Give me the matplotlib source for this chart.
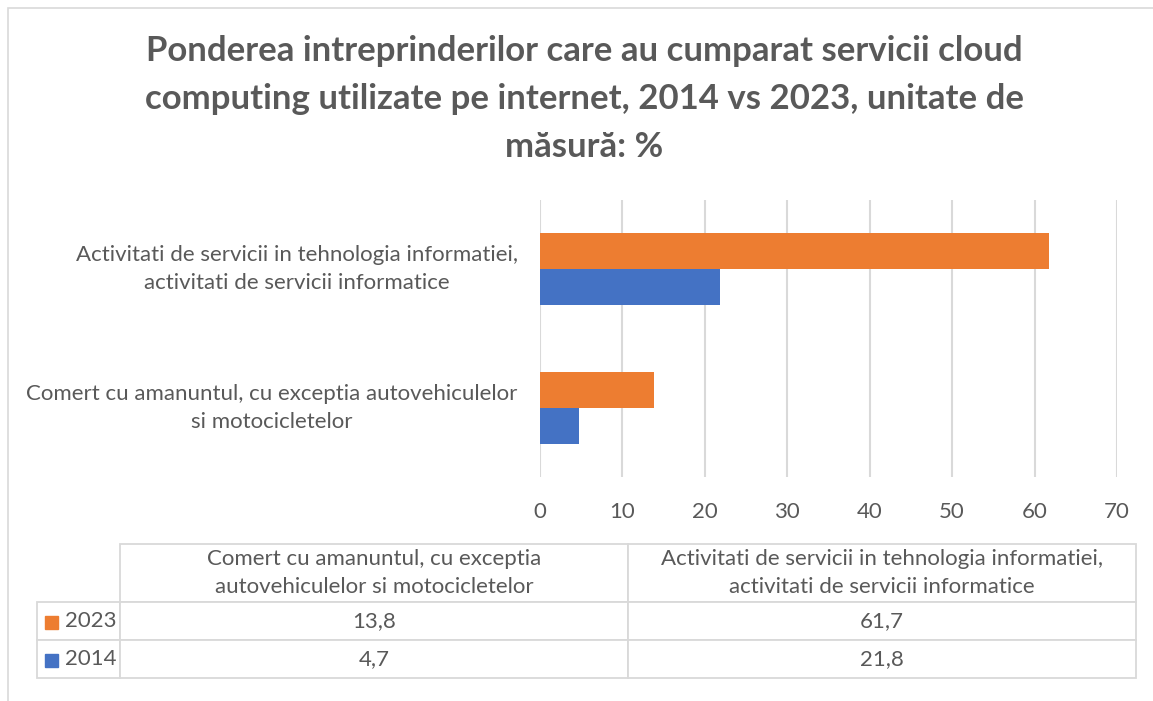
import matplotlib
matplotlib.use("Agg")
import matplotlib.pyplot as plt
from matplotlib.patches import Rectangle

plt.rcParams['font.family'] = ['Lato', 'DejaVu Sans']

# data
categories = ["Comert cu amanuntul, cu exceptia autovehiculelor\nsi motocicletelor",
              "Activitati de servicii in tehnologia informatiei,\nactivitati de servicii informatice"]
table_headers = ["Comert cu amanuntul, cu exceptia\nautovehiculelor si motocicletelor",
                 "Activitati de servicii in tehnologia informatiei,\nactivitati de servicii informatice"]
series = ["2023", "2014"]
values_2023 = [13.8, 61.7]
values_2014 = [4.7, 21.8]
colors = {"2023": "#ED7D31", "2014": "#4472C4"}
title = ("Ponderea intreprinderilor care au cumparat servicii cloud\n"
         "computing utilizate pe internet, 2014 vs 2023, unitate de\n"
         "măsură: %")

W, H = 1153, 701
txt = "#595959"
grid = "#D9D9D9"
fs = 16

fig = plt.figure(figsize=(W / 100, H / 100), dpi=100)

# chart border
fig.patches.append(Rectangle((8 / W, -0.05), 1.2, 1 - 8 / H + 0.05, transform=fig.transFigure,
                             fill=False, edgecolor=grid, lw=1.2))

fig.text(584 / W, 1 - 99 / H, title, ha='center', va='center', fontsize=25,
         fontweight='bold', color=txt, linespacing=1.63)

# bar chart
ax = fig.add_axes([540 / W, 1 - 477 / H, 577 / W, 277 / H])
y = range(len(categories))
h = 0.26
ax.barh([i + h / 2 for i in y], values_2023, height=h, color=colors["2023"], label="2023")
ax.barh([i - h / 2 for i in y], values_2014, height=h, color=colors["2014"], label="2014")
ax.set_xlim(0, 70)
ax.set_ylim(-0.5, 1.5)
ax.set_xticks(range(0, 71, 10))
ax.set_yticks(list(y))
ax.set_yticklabels(categories, ha='right', ma='center', va='center', linespacing=1.53)
ax.xaxis.grid(True, color=grid, lw=1.5)
ax.set_axisbelow(True)
for s in ax.spines.values():
    s.set_visible(False)
ax.tick_params(axis='y', length=0, pad=16, labelsize=fs, labelcolor=txt)
ax.tick_params(axis='x', length=0, pad=18, labelsize=fs, labelcolor=txt)

# data table, first column holds the series names
tw = 1099
axt = fig.add_axes([37 / W, 1 - 678 / H, tw / W, 134 / H])
axt.axis('off')
rows = [[series[0]] + [f"{v:.1f}".replace('.', ',') for v in values_2023],
        [series[1]] + [f"{v:.1f}".replace('.', ',') for v in values_2014]]
tab = axt.table(cellText=rows, colLabels=[''] + table_headers,
                colWidths=[83 / tw, 508 / tw, 508 / tw],
                cellLoc='center', bbox=[0, 0, 1, 1])
tab.auto_set_font_size(False)
tab.set_fontsize(fs)
row_h = {0: 58, 1: 38, 2: 38}
for (r, c), cell in tab.get_celld().items():
    cell.set_edgecolor(grid)
    cell.set_linewidth(1.3)
    cell.set_height(row_h[r] / 134)
    cell.get_text().set_color(txt)
    cell.get_text().set_linespacing(1.53)
    if c == 0 and r > 0:
        cell.get_text().set_horizontalalignment('left')
        cell.PAD = 0.34
tab[0, 0].visible_edges = 'open'

for i, s in enumerate(series):
    yc = (678 - (603 + 38 * i + 19)) / 134
    axt.add_patch(Rectangle((8 / tw, yc - 6.5 / 134), 13 / tw, 13 / 134,
                            transform=axt.transAxes, color=colors[s], clip_on=False))

fig.savefig("out.png", dpi=100)
